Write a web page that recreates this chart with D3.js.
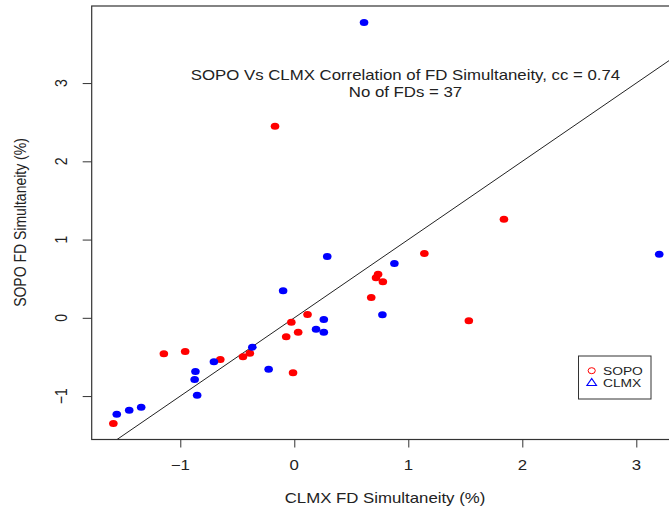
<!DOCTYPE html>
<html>
<head>
<meta charset="utf-8">
<script src="https://cdn.jsdelivr.net/npm/d3@7"></script>
<style>
  html, body { margin: 0; padding: 0; background: #fff; }
  svg { display: block; font-family: "Liberation Sans", Arial, Helvetica, sans-serif; }
</style>
</head>
<body>
<svg id="chart" width="669" height="512"></svg>
<script>
// ---- data ----
const sopoX = [-0.169, 1.839, 1.141, 0.735, 0.717, 0.777, 0.675, 1.531, 0.116, -0.026,
               0.034, -0.071, -0.011, -1.144, -0.957, -0.649, -0.450, -0.390, -1.587];
const sopoY = [2.449, 1.261, 0.822, 0.558, 0.511, 0.460, 0.260, -0.038, 0.043, -0.055,
               -0.183, -0.243, -0.703, -0.460, -0.430, -0.532, -0.497, -0.452, -1.350];
const clmxX = [0.612, 3.201, 0.289, 0.878, -0.098, 0.773, 0.259, 0.191, 0.259, -0.368,
               -0.705, -0.225, -0.867, -0.874, -0.852, -1.343, -1.448, -1.557];
const clmxY = [3.774, 0.814, 0.784, 0.694, 0.345, 0.038, -0.021, -0.145, -0.183, -0.375,
               -0.562, -0.656, -0.686, -0.788, -0.988, -1.142, -1.180, -1.231];
const xTicks = [-1, 0, 1, 2, 3];
const yTicks = [-1, 0, 1, 2, 3];
const seriesNames = ["SOPO", "CLMX"];
const seriesColors = ["#ff0000", "#0000ff"];
const titleLines = ["SOPO Vs CLMX Correlation of FD Simultaneity, cc = 0.74", "No of FDs = 37"];
const xLabel = "CLMX FD Simultaneity (%)";
const yLabel = "SOPO FD Simultaneity (%)";

// ---- layout ----
const svg = d3.select("#chart");
const SX = 1.2;           // horizontal stretch of the reference image
const fs = 14;
const pLeft = 91.7, pRight = 681, pTop = 6, pBottom = 439.5;

const x = d3.scaleLinear().domain([-1.777, 3.392]).range([pLeft, pRight]);
const y = d3.scaleLinear().domain([-1.555, 3.985]).range([pBottom, pTop]);

// clip
svg.append("clipPath").attr("id", "clip")
  .append("rect").attr("x", pLeft).attr("y", pTop).attr("width", pRight - pLeft).attr("height", pBottom - pTop);

// identity line y = x
const lineG = svg.append("g").attr("clip-path", "url(#clip)");
lineG.append("line")
  .attr("x1", x(-1.8)).attr("y1", y(-1.8))
  .attr("x2", x(3.4)).attr("y2", y(3.4))
  .attr("stroke", "#222").attr("stroke-width", 1);

// points
const ptsG = svg.append("g").attr("clip-path", "url(#clip)");
const sopo = sopoX.map((v, i) => ({x: v, y: sopoY[i]}));
const clmx = clmxX.map((v, i) => ({x: v, y: clmxY[i]}));
ptsG.selectAll("ellipse.sopo").data(sopo).enter().append("ellipse")
  .attr("class", "sopo")
  .attr("cx", d => x(d.x)).attr("cy", d => y(d.y))
  .attr("rx", 4.3).attr("ry", 3.5).attr("fill", seriesColors[0]);
ptsG.selectAll("ellipse.clmx").data(clmx).enter().append("ellipse")
  .attr("class", "clmx")
  .attr("cx", d => x(d.x)).attr("cy", d => y(d.y))
  .attr("rx", 4.3).attr("ry", 3.5).attr("fill", seriesColors[1]);

// box
svg.append("rect").attr("x", pLeft).attr("y", pTop)
  .attr("width", pRight - pLeft).attr("height", pBottom - pTop)
  .attr("fill", "none").attr("stroke", "#333").attr("stroke-width", 1.2);

// x axis
const xAxis = d3.axisBottom(x).tickValues(xTicks).tickSize(8).tickFormat("");
const xg = svg.append("g").attr("transform", `translate(0,${pBottom})`).call(xAxis);
xg.select(".domain").remove();
xg.selectAll(".tick line").attr("stroke", "#333");
xTicks.forEach(t => {
  svg.append("g").attr("transform", `translate(${x(t)},470) scale(${SX},1)`)
    .append("text").attr("text-anchor", "middle").attr("font-size", fs).attr("fill", "#222")
    .text(t < 0 ? "\u2212" + Math.abs(t) : String(t));
});

// y axis
const yAxis = d3.axisLeft(y).tickValues(yTicks).tickSize(9).tickFormat("");
const yg = svg.append("g").attr("transform", `translate(${pLeft},0)`).call(yAxis);
yg.select(".domain").remove();
yg.selectAll(".tick line").attr("stroke", "#333");
yTicks.forEach(t => {
  svg.append("g").attr("transform", `translate(61,${y(t)}) scale(${SX},1) rotate(-90)`)
    .append("text").attr("text-anchor", "middle").attr("dy", "0.35em").attr("font-size", fs).attr("fill", "#222")
    .text(t < 0 ? "\u2212" + Math.abs(t) : String(t));
});

// axis titles
svg.append("g").attr("transform", `translate(385,503) scale(${SX},1)`)
  .append("text").attr("text-anchor", "middle").attr("font-size", fs).attr("fill", "#222").text(xLabel);
svg.append("g").attr("transform", `translate(20,222.5) scale(${SX},1) rotate(-90)`)
  .append("text").attr("text-anchor", "middle").attr("dy", "0.35em").attr("font-size", fs).attr("fill", "#222").text(yLabel);

// in-plot title
titleLines.forEach((s, i) => {
  svg.append("g").attr("transform", `translate(${x(0.975)},${y(3.1) + 5 + i * 16.3}) scale(${SX},1)`)
    .append("text").attr("text-anchor", "middle").attr("font-size", fs).attr("fill", "#222").text(s);
});

// legend
const lg = svg.append("g");
lg.append("rect").attr("x", 578.5).attr("y", 356).attr("width", 72.5).attr("height", 43)
  .attr("fill", "#fff").attr("stroke", "#333").attr("stroke-width", 1);
lg.append("ellipse").attr("cx", 591.7).attr("cy", 370.7).attr("rx", 3.6).attr("ry", 3)
  .attr("fill", "none").attr("stroke", seriesColors[0]).attr("stroke-width", 1);
const tri = d3.symbol().type(d3.symbolTriangle).size(28)();
lg.append("path").attr("d", tri).attr("transform", "translate(591.7,383.2) scale(1.2,1)")
  .attr("fill", "none").attr("stroke", seriesColors[1]).attr("stroke-width", 1);
seriesNames.forEach((s, i) => {
  lg.append("g").attr("transform", `translate(603,${370.7 + i * 12.5}) scale(${SX},1)`)
    .append("text").attr("dy", "0.36em").attr("font-size", 11.5).attr("fill", "#222").text(s);
});
</script>
</body>
</html>
